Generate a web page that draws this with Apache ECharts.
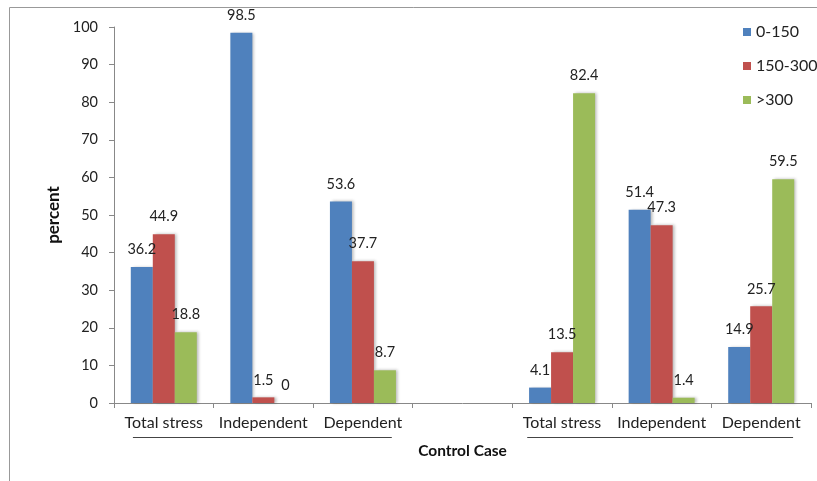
<!DOCTYPE html>
<html>
<head>
<meta charset="utf-8">
<script src="https://cdn.jsdelivr.net/npm/echarts@6/dist/echarts.min.js"></script>
<style>
html,body{margin:0;padding:0;background:#fff;}
#c{width:817px;height:481px;}
</style>
</head>
<body>
<div id="c"></div>
<script>
const categories = ['Total stress', 'Independent', 'Dependent', '', 'Total stress', 'Independent', 'Dependent'];
const seriesNames = ['0-150', '150-300', '>300'];
const low = [36.2, 98.5, 53.6, null, 4.1, 51.4, 14.9];
const mid = [44.9, 1.5, 37.7, null, 13.5, 47.3, 25.7];
const high = [18.8, 0, 8.7, null, 82.4, 1.4, 59.5];
const yTicks = [0, 10, 20, 30, 40, 50, 60, 70, 80, 90, 100];
const colors = ['#4F81BD', '#C0504D', '#9BBB59'];
const font = 'Lato, "Open Sans", sans-serif';

const chart = echarts.init(document.getElementById('c'));
const mk = (name, data, color) => ({
  name, type: 'bar', data, barWidth: 22, barGap: '0%',
  itemStyle: { color, shadowColor: 'rgba(0,0,0,0.28)', shadowBlur: 3, shadowOffsetX: 2, shadowOffsetY: 0 },
  label: { show: true, position: 'top', distance: 10, color: '#222', fontSize: 14.5, fontFamily: font },
  animation: false
});
chart.setOption({
  animation: false,
  grid: { left: 114, right: 6, top: 27, bottom: 78 },
  legend: {
    orient: 'vertical', left: 738, top: 19, itemWidth: 8, itemHeight: 8, itemGap: 18,
    icon: 'rect', textStyle: { fontSize: 16, fontFamily: font, color: '#222' },
    data: seriesNames
  },
  xAxis: {
    type: 'category', data: categories,
    axisLine: { lineStyle: { color: '#888' } },
    axisTick: { show: true, length: 5, lineStyle: { color: '#888' } },
    axisLabel: { fontSize: 16, fontFamily: font, color: '#222', margin: 12, interval: 0 },
    name: 'Control Case', nameLocation: 'middle', nameGap: 40,
    nameTextStyle: { fontSize: 15.5, fontWeight: 'bold', fontFamily: font, color: '#111' }
  },
  yAxis: {
    type: 'value', min: yTicks[0], max: yTicks[yTicks.length - 1], interval: 10,
    axisLine: { show: true, lineStyle: { color: '#888' } },
    axisTick: { show: true, length: 5, lineStyle: { color: '#888' } },
    axisLabel: { fontSize: 14.5, fontFamily: font, color: '#222', margin: 16 },
    splitLine: { show: false },
    name: 'percent', nameLocation: 'middle', nameGap: 47,
    nameTextStyle: { fontSize: 17, fontWeight: 'bold', fontFamily: font, color: '#111' }
  },
  series: [mk(seriesNames[0], low, colors[0]), mk(seriesNames[1], mid, colors[1]), mk(seriesNames[2], high, colors[2])]
});

// group underlines and outer frame, positioned via the axis scale
const y0 = chart.convertToPixel({ yAxisIndex: 0 }, 0) + 34.5;
const xs = i => chart.convertToPixel({ xAxisIndex: 0 }, i);
const catW = xs(1) - xs(0);
chart.setOption({
  graphic: [
    { type: 'rect', shape: { x: 9.5, y: 7.5, width: 900, height: 600 }, style: { fill: 'none', stroke: '#999', lineWidth: 1 }, silent: true },
    { type: 'line', shape: { x1: xs(0) - catW * 0.31, y1: y0, x2: xs(2) + catW * 0.29, y2: y0 }, style: { stroke: '#444', lineWidth: 1.2 } },
    { type: 'line', shape: { x1: xs(4) - catW * 0.35, y1: y0, x2: xs(6) + catW * 0.32, y2: y0 }, style: { stroke: '#444', lineWidth: 1.2 } }
  ]
});
</script>
</body>
</html>
